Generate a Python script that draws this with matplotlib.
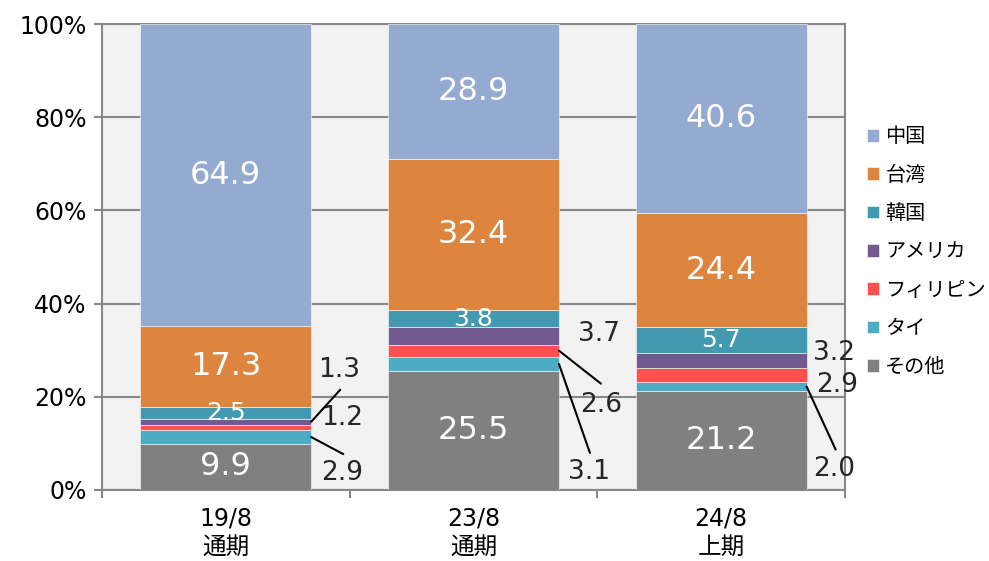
import matplotlib
matplotlib.use('Agg')
import numpy as np
import matplotlib.pyplot as plt

plt.rcParams['font.family'] = ['DejaVu Sans', 'Noto Sans CJK JP']

# data (share %, bottom to top)
periods = ['19/8\n通期', '23/8\n通期', '24/8\n上期']
series = ['その他', 'タイ', 'フィリピン', 'アメリカ', '韓国', '台湾', '中国']
other = [9.9, 25.5, 21.2]
thai = [2.9, 3.1, 2.0]
phil = [1.2, 2.6, 2.9]
usa = [1.3, 3.7, 3.2]
korea = [2.5, 3.8, 5.7]
taiwan = [17.3, 32.4, 24.4]
china = [64.9, 28.9, 40.6]
values = [other, thai, phil, usa, korea, taiwan, china]
colors = ['#808080', '#4bacc6', '#ff5050', '#725a90', '#4299b0', '#dd843e', '#95aad1']

# labels drawn outside the bar: (bar, series) -> (label offset px, line end offset px or None)
outside = {
    (0, 3): ((28, 52), (29, 32)),
    (0, 2): ((31, 10), None),
    (0, 1): ((31, -36), (32, -17)),
    (1, 3): ((40, 2), None),
    (1, 2): ((42, -54), (42, -33)),
    (1, 1): ((30, -108), (31, -89)),
    (2, 3): ((27, 8), None),
    (2, 2): ((31, -10), None),
    (2, 1): ((28, -82), (29, -63)),
}

fig = plt.figure(figsize=(9.89, 5.61), dpi=100)
ax = fig.add_axes([0.1031, 0.1266, 0.7513, 0.8306])
ax.set_facecolor('#f2f2f2')

x = np.arange(len(periods))
width = 0.69
bottom = np.zeros(len(periods))
for i, (name, vals) in enumerate(zip(series, values)):
    vals = np.array(vals)
    ax.bar(x, vals, width, bottom=bottom, color=colors[i], label=name,
           edgecolor='white', linewidth=0.4, zorder=3)
    for j in range(len(periods)):
        mid = bottom[j] + vals[j] / 2
        txt = f'{vals[j]:.1f}'
        if (j, i) in outside:
            (tx, ty), line = outside[(j, i)]
            edge = x[j] + width / 2
            ax.annotate(txt, (edge, mid), xytext=(tx, ty), textcoords='offset pixels',
                        ha='center', va='center', fontsize=19, color='#262626', zorder=5)
            if line is not None:
                ax.annotate('', (edge, mid), xytext=line, textcoords='offset pixels',
                            arrowprops=dict(arrowstyle='-', color='black', lw=1.5,
                                            shrinkA=0, shrinkB=0), zorder=5)
        else:
            fs = 18 if name == '韓国' else 23
            ax.text(x[j], mid, txt, ha='center', va='center', fontsize=fs,
                    color='white', zorder=4)
    bottom += vals

ax.set_xlim(-0.5, 2.5)
ax.set_ylim(0, 100)
ax.set_yticks(np.arange(0, 101, 20))
ax.set_yticklabels([f'{v}%' for v in range(0, 101, 20)])
ax.yaxis.grid(True, color='#888888', linewidth=1.5, zorder=0)
ax.set_axisbelow(True)

ax.set_xticks([-0.5, 0.5, 1.5, 2.5])
ax.set_xticklabels([])
ax.set_xticks(x, minor=True)
ax.set_xticklabels(periods, minor=True, linespacing=1.2)
ax.tick_params(axis='x', which='minor', length=0, pad=12, labelsize=17)
ax.tick_params(axis='x', which='major', length=6, width=1.5, color='#888888')
ax.tick_params(axis='y', length=6, width=1.5, color='#888888', labelsize=17, pad=5)

for s in ax.spines.values():
    s.set_color('#888888')
    s.set_linewidth(1.5)

h, l = ax.get_legend_handles_labels()
ax.legend(h[::-1], l[::-1], loc='center left', bbox_to_anchor=(1.03, 0.511),
          frameon=False, prop=dict(family=['Noto Sans CJK JP'], size=14.5),
          handlelength=0.6, handleheight=0.6, handletextpad=0.3,
          labelspacing=0.86, borderaxespad=0, borderpad=0)

fig.savefig('out.png', dpi=100)
